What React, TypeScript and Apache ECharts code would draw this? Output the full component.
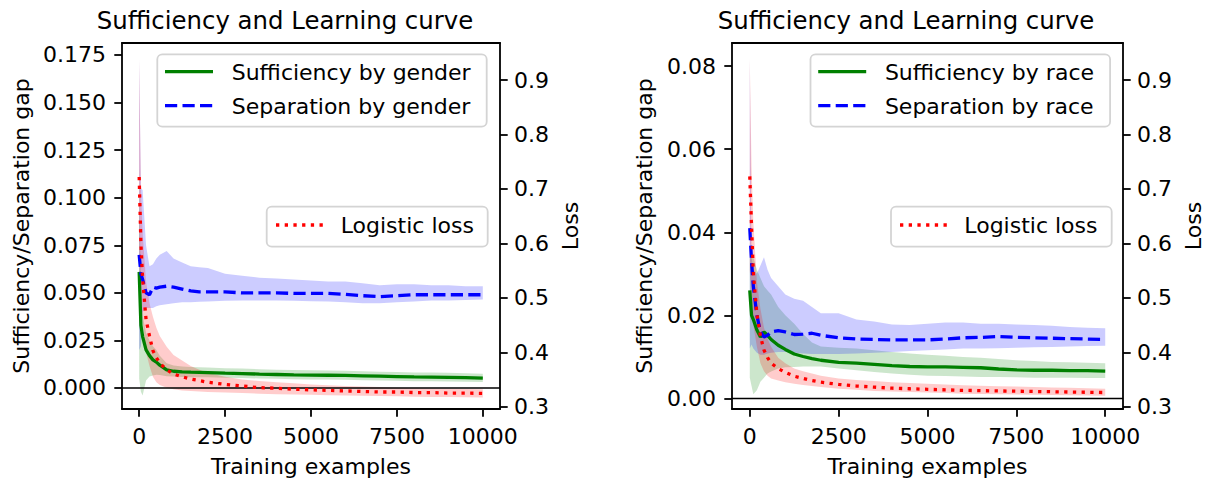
import React, { useEffect, useRef } from 'react';
import * as echarts from 'echarts';

// ---------- data ----------
const X = [0, 50, 100, 200, 300, 400, 500, 600, 800, 1000, 1250, 1500, 1750, 2000, 2500, 3000, 3500, 4000, 4500, 5000, 5500, 6000, 6500, 7000, 7500, 8000, 8500, 9000, 9500, 10000];

const xTicks = [0, 2500, 5000, 7500, 10000];
const gapTicksGender = [0, 0.025, 0.05, 0.075, 0.1, 0.125, 0.15, 0.175];
const gapTicksRace = [0, 0.02, 0.04, 0.06, 0.08];
const lossTicks = [0.3, 0.4, 0.5, 0.6, 0.7, 0.8, 0.9];

// gender panel
const suffGender = [0.061, 0.033, 0.027, 0.020, 0.017, 0.0148, 0.0136, 0.012, 0.0095, 0.0088, 0.0085, 0.0083, 0.0082, 0.0081, 0.0078, 0.0076, 0.0073, 0.0071, 0.0069, 0.0068, 0.0067, 0.0066, 0.0064, 0.0062, 0.0060, 0.0058, 0.0057, 0.0056, 0.0055, 0.0052];
const suffGenderLo = [0.005, -0.002, -0.004, 0.004, 0.006, 0.0065, 0.007, 0.0068, 0.0062, 0.006, 0.0058, 0.0057, 0.0056, 0.0056, 0.0054, 0.0052, 0.005, 0.0048, 0.0046, 0.0045, 0.0044, 0.0043, 0.0041, 0.004, 0.0038, 0.0036, 0.0035, 0.0034, 0.0033, 0.0031];
const suffGenderHi = [0.116, 0.050, 0.038, 0.029, 0.025, 0.022, 0.020, 0.017, 0.013, 0.0118, 0.0113, 0.011, 0.0109, 0.0108, 0.0104, 0.0102, 0.0099, 0.0096, 0.0094, 0.0093, 0.0092, 0.009, 0.0088, 0.0086, 0.0084, 0.0082, 0.0081, 0.008, 0.0078, 0.0075];
const sepGender = [0.070, 0.060, 0.057, 0.050, 0.049, 0.053, 0.0525, 0.053, 0.0535, 0.053, 0.052, 0.051, 0.0505, 0.0505, 0.0505, 0.050, 0.050, 0.050, 0.0497, 0.0497, 0.0497, 0.0492, 0.0485, 0.048, 0.0485, 0.049, 0.049, 0.049, 0.049, 0.049];
const sepGenderLo = [0.020, 0.022, 0.040, 0.042, 0.042, 0.042, 0.043, 0.0435, 0.044, 0.0445, 0.045, 0.045, 0.0453, 0.0455, 0.0458, 0.046, 0.046, 0.046, 0.0458, 0.0456, 0.0455, 0.045, 0.0445, 0.0445, 0.045, 0.0455, 0.046, 0.046, 0.0462, 0.0465];
const sepGenderHi = [0.173, 0.105, 0.104, 0.075, 0.064, 0.065, 0.068, 0.070, 0.072, 0.068, 0.066, 0.064, 0.0635, 0.063, 0.060, 0.059, 0.058, 0.0575, 0.057, 0.0565, 0.056, 0.056, 0.055, 0.054, 0.0545, 0.0545, 0.054, 0.054, 0.0535, 0.0535];
const lossGender = [0.722, 0.60, 0.535, 0.46, 0.43, 0.403, 0.39, 0.38, 0.368, 0.36, 0.355, 0.351, 0.348, 0.345, 0.341, 0.338, 0.335, 0.334, 0.332, 0.331, 0.330, 0.329, 0.328, 0.327, 0.327, 0.326, 0.326, 0.325, 0.325, 0.3245];
const lossGenderLo = [0.56, 0.50, 0.46, 0.40, 0.375, 0.355, 0.345, 0.340, 0.335, 0.332, 0.330, 0.329, 0.328, 0.327, 0.326, 0.325, 0.324, 0.323, 0.3225, 0.322, 0.321, 0.3205, 0.32, 0.3195, 0.319, 0.3185, 0.318, 0.3178, 0.3175, 0.317];
const lossGenderHi = [0.939, 0.70, 0.62, 0.53, 0.49, 0.465, 0.445, 0.43, 0.41, 0.395, 0.385, 0.375, 0.368, 0.362, 0.355, 0.350, 0.347, 0.345, 0.343, 0.341, 0.3395, 0.338, 0.337, 0.336, 0.335, 0.334, 0.3335, 0.333, 0.3325, 0.332];

// race panel
const suffRace = [0.026, 0.020, 0.019, 0.0165, 0.0148, 0.016, 0.0152, 0.0142, 0.0128, 0.0118, 0.0107, 0.0101, 0.0096, 0.0092, 0.0087, 0.0085, 0.0082, 0.0079, 0.0077, 0.0076, 0.0076, 0.0075, 0.0074, 0.0071, 0.0069, 0.0068, 0.0068, 0.0067, 0.0067, 0.0066];
const suffRaceLo = [0.005, 0.003, 0.001, 0.002, 0.004, 0.005, 0.006, 0.0065, 0.0072, 0.0075, 0.0076, 0.0077, 0.0077, 0.0077, 0.0072, 0.0068, 0.0064, 0.006, 0.0057, 0.0055, 0.0054, 0.0053, 0.0052, 0.0052, 0.0051, 0.005, 0.005, 0.005, 0.0049, 0.0049];
const suffRaceHi = [0.034, 0.034, 0.034, 0.031, 0.029, 0.027, 0.026, 0.025, 0.022, 0.020, 0.018, 0.0155, 0.0135, 0.0125, 0.0122, 0.012, 0.0116, 0.0112, 0.0108, 0.0105, 0.0103, 0.0100, 0.0098, 0.0095, 0.0092, 0.009, 0.0088, 0.0087, 0.0086, 0.0085];
const sepRace = [0.041, 0.033, 0.027, 0.020, 0.016, 0.0148, 0.0152, 0.016, 0.0163, 0.016, 0.0154, 0.0155, 0.0157, 0.0152, 0.0146, 0.0143, 0.0142, 0.0141, 0.0141, 0.0141, 0.0143, 0.0146, 0.0147, 0.0149, 0.0147, 0.0146, 0.0145, 0.0144, 0.0143, 0.0142];
const sepRaceLo = [0.012, 0.013, 0.012, 0.011, 0.0105, 0.0105, 0.0108, 0.011, 0.0112, 0.0112, 0.0110, 0.0108, 0.0107, 0.0107, 0.0107, 0.0108, 0.011, 0.0112, 0.0114, 0.0116, 0.0118, 0.012, 0.012, 0.0121, 0.0122, 0.0123, 0.0124, 0.0125, 0.0126, 0.0127];
const sepRaceHi = [0.082, 0.034, 0.031, 0.030, 0.032, 0.034, 0.031, 0.029, 0.027, 0.025, 0.024, 0.0235, 0.022, 0.0205, 0.0205, 0.019, 0.0185, 0.0178, 0.0177, 0.018, 0.0183, 0.0183, 0.018, 0.018, 0.0178, 0.0177, 0.0175, 0.0172, 0.017, 0.0169];
const lossRace = [0.723, 0.63, 0.545, 0.47, 0.43, 0.404, 0.39, 0.38, 0.37, 0.363, 0.356, 0.352, 0.348, 0.345, 0.341, 0.338, 0.336, 0.334, 0.333, 0.332, 0.331, 0.330, 0.3295, 0.329, 0.3285, 0.328, 0.3275, 0.327, 0.3265, 0.326];
const lossRaceLo = [0.55, 0.50, 0.45, 0.41, 0.38, 0.365, 0.357, 0.352, 0.348, 0.345, 0.342, 0.340, 0.338, 0.336, 0.333, 0.331, 0.329, 0.328, 0.327, 0.326, 0.325, 0.324, 0.3235, 0.323, 0.3225, 0.322, 0.3215, 0.321, 0.3205, 0.320];
const lossRaceHi = [0.94, 0.74, 0.64, 0.53, 0.48, 0.445, 0.425, 0.41, 0.39, 0.38, 0.37, 0.365, 0.361, 0.357, 0.352, 0.349, 0.347, 0.345, 0.3435, 0.342, 0.341, 0.3395, 0.3385, 0.3375, 0.337, 0.336, 0.3355, 0.335, 0.334, 0.333];

// ---------- styling ----------
const FONT = 'DejaVu Sans';
const FS = 22;
const GREEN = '#008000';
const BLUE = '#0000ff';
const RED = '#ff0000';
const LW = 3.3;
const DASH = [12.2, 5.3];
const DOT = [3.3, 5.4];
const SPINE = { show: true, onZero: false, lineStyle: { color: '#000', width: 1.8 } };

function band(xi: number, yi: number, lo: number[], hi: number[], fill: string) {
  return {
    type: 'custom',
    xAxisIndex: xi,
    yAxisIndex: yi,
    clip: true,
    silent: true,
    data: X.map((x, i) => [x, lo[i], hi[i]]),
    encode: { x: 0, y: [1, 2] },
    renderItem: (params: any, api: any) => {
      if (params.dataIndex !== 0) return null;
      const pts: number[][] = [];
      for (let i = 0; i < X.length; i++) pts.push(api.coord([X[i], hi[i]]));
      for (let i = X.length - 1; i >= 0; i--) pts.push(api.coord([X[i], lo[i]]));
      return { type: 'polygon', shape: { points: pts }, style: { fill } };
    },
  };
}

function line(xi: number, yi: number, v: number[], color: string, type: any) {
  return {
    type: 'line',
    xAxisIndex: xi,
    yAxisIndex: yi,
    silent: true,
    symbol: 'none',
    showSymbol: false,
    data: X.map((x, i) => [x, v[i]]),
    lineStyle: { color, width: LW, type, cap: 'butt' },
  };
}

function zeroLine(xi: number, yi: number) {
  return {
    type: 'line',
    xAxisIndex: xi,
    yAxisIndex: yi,
    silent: true,
    symbol: 'none',
    data: [[-500, 0], [10500, 0]],
    lineStyle: { color: '#000', width: 1.5 },
  };
}

const axisText = { fontFamily: FONT, fontSize: FS, color: '#000' };

function xAxis(gridIndex: number) {
  return {
    type: 'value',
    gridIndex,
    position: 'bottom',
    min: -500,
    max: 10500,
    name: 'Training examples',
    nameLocation: 'middle',
    nameGap: 46,
    nameTextStyle: axisText,
    axisLine: SPINE,
    axisTick: { show: true, length: 7.7, lineStyle: { color: '#000', width: 1.8 }, customValues: xTicks },
    axisLabel: { ...axisText, margin: 16, customValues: xTicks, formatter: (v: number) => String(v) },
    splitLine: { show: false },
  };
}

function xTopSpine(gridIndex: number) {
  return {
    type: 'value',
    gridIndex,
    position: 'top',
    min: -500,
    max: 10500,
    axisLine: SPINE,
    axisTick: { show: false },
    axisLabel: { show: false },
    splitLine: { show: false },
  };
}

function yAxis(gridIndex: number, pos: string, min: number, max: number, ticks: number[], digits: number, name: string, nameGap: number, margin: number) {
  return {
    type: 'value',
    gridIndex,
    position: pos,
    min,
    max,
    name,
    nameLocation: 'middle',
    nameRotate: 90,
    nameGap,
    nameTextStyle: axisText,
    axisLine: SPINE,
    axisTick: { show: true, length: 7.7, lineStyle: { color: '#000', width: 1.8 }, customValues: ticks },
    axisLabel: { ...axisText, margin, customValues: ticks, formatter: (v: number) => v.toFixed(digits) },
    splitLine: { show: false },
  };
}

function legendBox(x: number, y: number, w: number, h: number) {
  return {
    type: 'rect',
    z: 100,
    shape: { x, y, width: w, height: h, r: 5 },
    style: { fill: 'rgba(255,255,255,0.8)', stroke: '#d4d4d4', lineWidth: 1.8 },
  };
}
function legendLine(x: number, y: number, color: string, dash: any) {
  return {
    type: 'line',
    z: 101,
    shape: { x1: x, y1: y, x2: x + 48, y2: y },
    style: { stroke: color, lineWidth: LW, lineDash: dash },
  };
}
function label(x: number, y: number, text: string, size: number, align: string) {
  return {
    type: 'text',
    z: 101,
    x,
    y,
    style: { text, font: `${size}px "${FONT}"`, fill: '#000', align, verticalAlign: 'middle', textAlign: align, textVerticalAlign: 'middle' },
  };
}

const option: any = {
  animation: false,
  backgroundColor: '#ffffff',
  grid: [
    { left: 122, top: 43, width: 378, height: 366, show: false, containLabel: false, outerBoundsMode: 'none' },
    { left: 732, top: 43, width: 391, height: 366, show: false, containLabel: false, outerBoundsMode: 'none' },
  ],
  xAxis: [xAxis(0), xAxis(1), xTopSpine(0), xTopSpine(1)],
  yAxis: [
    yAxis(0, 'left', -0.01104, 0.1813, gapTicksGender, 3, 'Sufficiency/Separation gap', 90, 16),
    yAxis(0, 'right', 0.2958, 0.968, lossTicks, 1, 'Loss', 59, 14),
    yAxis(1, 'left', -0.00253, 0.08554, gapTicksRace, 2, 'Sufficiency/Separation gap', 77, 16),
    yAxis(1, 'right', 0.2958, 0.968, lossTicks, 1, 'Loss', 59, 14),
  ],
  series: [
    band(0, 0, suffGenderLo, suffGenderHi, 'rgba(0,128,0,0.2)'),
    line(0, 0, suffGender, GREEN, 'solid'),
    band(0, 0, sepGenderLo, sepGenderHi, 'rgba(0,0,255,0.2)'),
    line(0, 0, sepGender, BLUE, DASH),
    zeroLine(0, 0),
    band(0, 1, lossGenderLo, lossGenderHi, 'rgba(255,0,0,0.2)'),
    line(0, 1, lossGender, RED, DOT),

    band(1, 2, suffRaceLo, suffRaceHi, 'rgba(0,128,0,0.2)'),
    line(1, 2, suffRace, GREEN, 'solid'),
    band(1, 2, sepRaceLo, sepRaceHi, 'rgba(0,0,255,0.2)'),
    line(1, 2, sepRace, BLUE, DASH),
    zeroLine(1, 2),
    band(1, 3, lossRaceLo, lossRaceHi, 'rgba(255,0,0,0.2)'),
    line(1, 3, lossRace, RED, DOT),
  ],
  graphic: [
    label(285, 20, 'Sufficiency and Learning curve', 24.4, 'center'),
    label(906, 20, 'Sufficiency and Learning curve', 24.4, 'center'),

    legendBox(157.3, 54.3, 329.4, 72.4),
    legendLine(165, 71.7, GREEN, null),
    legendLine(165, 105.7, BLUE, DASH),
    label(231.7, 72, 'Sufficiency by gender', FS, 'left'),
    label(231.7, 106, 'Separation by gender', FS, 'left'),
    legendBox(266.7, 206.7, 221, 40),
    legendLine(276, 225, RED, DOT),
    label(340.7, 225.5, 'Logistic loss', FS, 'left'),

    legendBox(810.5, 54.3, 299.6, 72.4),
    legendLine(818.2, 71.7, GREEN, null),
    legendLine(818.2, 105.7, BLUE, DASH),
    label(884.9, 72, 'Sufficiency by race', FS, 'left'),
    label(884.9, 106, 'Separation by race', FS, 'left'),
    legendBox(891, 206.7, 220.7, 40),
    legendLine(900, 225, RED, DOT),
    label(964.3, 225.5, 'Logistic loss', FS, 'left'),
  ],
};

export default function App() {
  const ref = useRef<HTMLDivElement>(null);
  useEffect(() => {
    const chart = echarts.init(ref.current as HTMLDivElement, null, { renderer: 'svg' });
    chart.setOption(option);
    return () => chart.dispose();
  }, []);
  return <div ref={ref} style={{ position: 'absolute', left: 0, top: 0, width: 1210, height: 482 }} />;
}
